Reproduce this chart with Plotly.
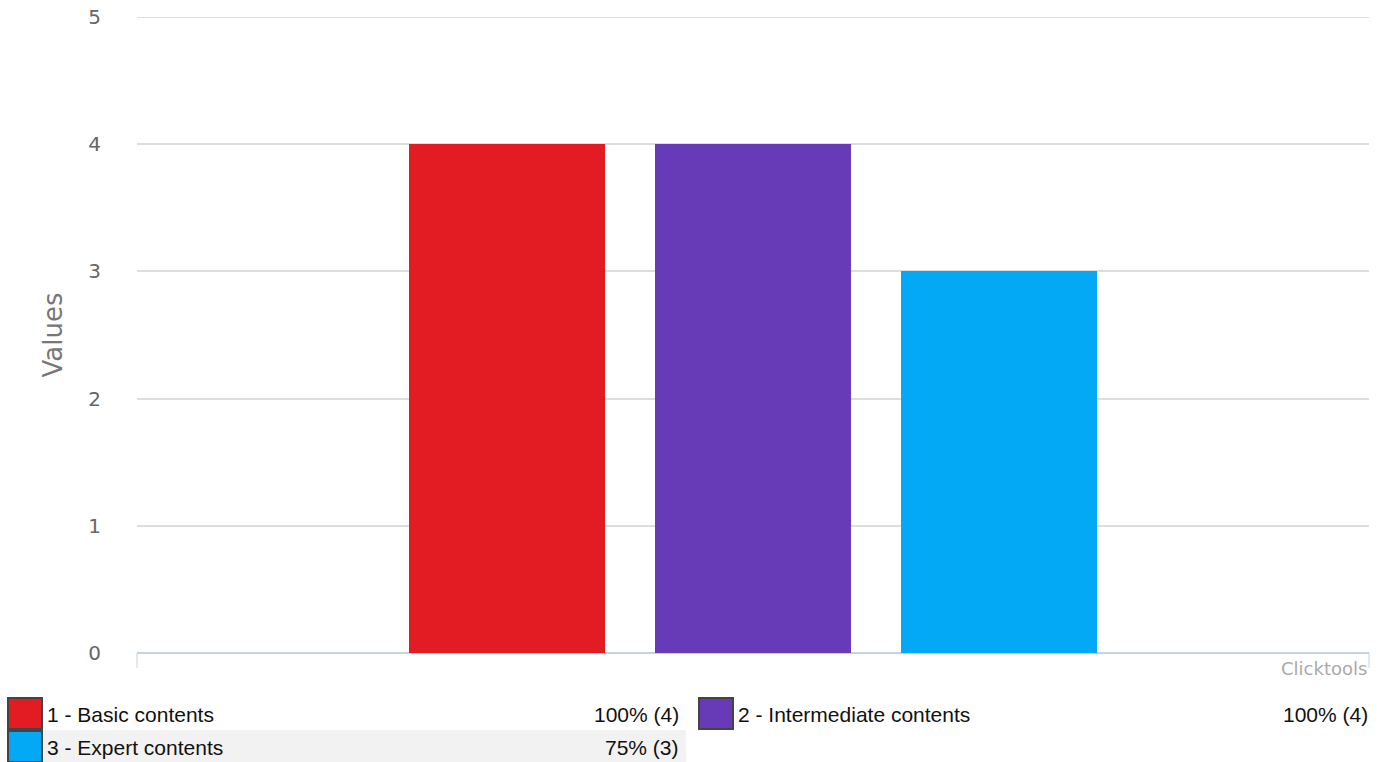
import plotly.graph_objects as go

categories = ["1 - Basic contents", "2 - Intermediate contents", "3 - Expert contents"]
values = [4, 4, 3]
percents = ["100% (4)", "100% (4)", "75% (3)"]
colors = ["#e31b23", "#673ab7", "#03a9f4"]
positions = [1, 2, 3]
y_ticks = [0, 1, 2, 3, 4, 5]

W, H = 1388, 762
L, R, T, B = 137, 19, 17, 109
PW, PH = W - L - R, H - T - B


def px(x):
    return (x - L) / PW


def py(y):
    return (H - B - y) / PH


fig = go.Figure()
for cat, val, col, pos in zip(categories, values, colors, positions):
    fig.add_trace(go.Bar(
        x=[pos], y=[val], name=cat, width=0.795,
        marker=dict(color=col, line=dict(width=0)),
        showlegend=False,
    ))

shapes = []
annotations = []

# top gridline (plotly hides gridline at range edge)
shapes.append(dict(type="line", xref="paper", yref="y", x0=0, x1=1, y0=y_ticks[-1], y1=y_ticks[-1],
                   line=dict(color="#dddddd", width=2), layer="below"))

# bottom axis frame
shapes.append(dict(type="line", xref="paper", yref="paper", x0=0, x1=0, y0=0, y1=py(668),
                   line=dict(color="#c5d2e0", width=1)))
shapes.append(dict(type="line", xref="paper", yref="paper", x0=1, x1=1, y0=0, y1=py(668),
                   line=dict(color="#c5d2e0", width=1)))
annotations.append(dict(xref="paper", yref="paper", x=1, y=py(668), xanchor="right", yanchor="middle",
                        text="Clicktools", showarrow=False,
                        font=dict(family="DejaVu Sans", size=18, color="#aaaaaa")))

# legend table
rows = [(0, 0), (1, 0), (0, 1)]  # (column, row) for each category
row_tops = [697, 730]
col_x = [7, 698]
col_right = [681, 1370]
shapes.append(dict(type="rect", xref="paper", yref="paper", x0=px(43), x1=px(686),
                   y0=py(762), y1=py(730), fillcolor="#f2f2f2", line=dict(width=0), layer="below"))
for (c, r), cat, pct, col in zip(rows, categories, percents, colors):
    x0 = col_x[c]
    y0 = row_tops[r]
    shapes.append(dict(type="rect", xref="paper", yref="paper",
                       x0=px(x0 + 1), x1=px(x0 + 35), y0=py(y0 + 1), y1=py(y0 + 32),
                       fillcolor=col, line=dict(color="#444444", width=2)))
    annotations.append(dict(xref="paper", yref="paper", x=px(x0 + 38), y=py(y0 + 17),
                            xanchor="left", yanchor="middle", text=cat, showarrow=False,
                            font=dict(family="Liberation Sans, Arial", size=21, color="#111111")))
    annotations.append(dict(xref="paper", yref="paper", x=px(col_right[c]), y=py(y0 + 17),
                            xanchor="right", yanchor="middle", text=pct, showarrow=False,
                            font=dict(family="Liberation Sans, Arial", size=21, color="#111111")))

fig.update_layout(
    width=W, height=H,
    margin=dict(l=L, r=R, t=T, b=B, pad=0, autoexpand=False),
    paper_bgcolor="white", plot_bgcolor="white",
    bargap=0,
    xaxis=dict(range=[-0.5, 4.5], showticklabels=False, showgrid=False, zeroline=False,
               showline=False, ticks="", fixedrange=True, automargin=False),
    yaxis=dict(range=[0, 5], tickvals=y_ticks, showgrid=True, gridcolor="#dddddd", gridwidth=1.5,
               zeroline=True, zerolinecolor="#c5d2e0", zerolinewidth=1.5, automargin=False,
               showline=False, ticks="", ticklabelstandoff=35,
               tickfont=dict(family="DejaVu Sans", size=20, color="#666666"),
               title=dict(text="Values", standoff=18,
                          font=dict(family="DejaVu Sans", size=26, color="#777777"))),
    shapes=shapes,
    annotations=annotations,
)

fig.write_html("out.html")
